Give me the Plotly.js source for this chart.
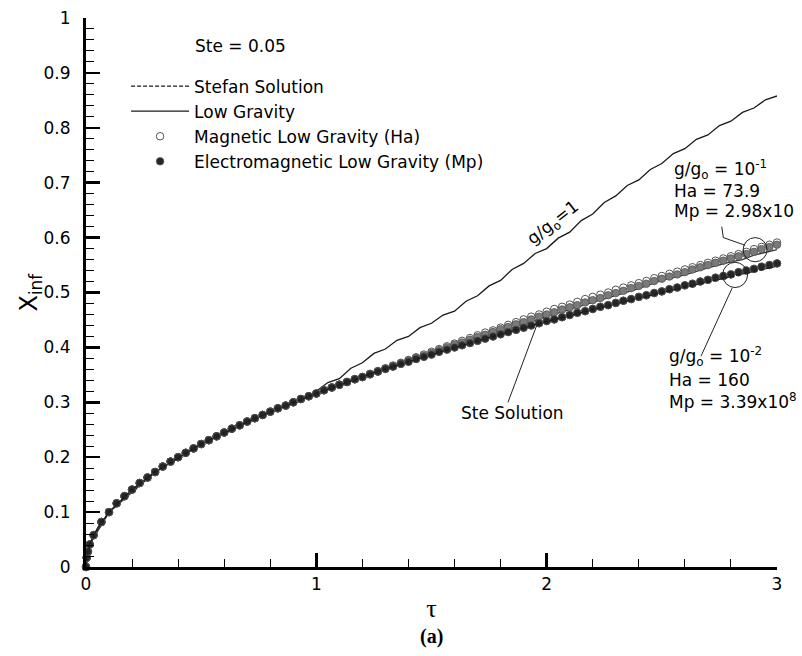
<!DOCTYPE html>
<html><head><meta charset="utf-8">
<script src="https://cdn.plot.ly/plotly-3.0.1.min.js"></script>
<style>html,body{margin:0;padding:0;background:#fff;}#chart{width:802px;height:656px;}</style>
</head><body><div id="chart"></div>
<script>
// ---- data ----
// Stefan (analytic) solution, dashed
const tauStefan = [0, 0.005, 0.02, 0.05, 0.1, 0.2, 0.3, 0.5, 0.75, 1, 1.25, 1.5, 1.75, 2, 2.25, 2.5, 2.75, 3];
const xStefan   = [0, 0.022, 0.045, 0.071, 0.1, 0.141, 0.173, 0.224, 0.274, 0.316, 0.354, 0.387, 0.418, 0.447, 0.474, 0.5, 0.524, 0.548];

// Low gravity, g/go = 1 (solid, wavy)
const tauLG1 = [0, 0.02, 0.1, 0.3, 0.5, 0.7, 0.9, 0.95, 1.0, 1.05, 1.1, 1.15, 1.2, 1.25, 1.3, 1.35, 1.4, 1.45, 1.5, 1.55, 1.6, 1.65, 1.7, 1.75, 1.8, 1.85, 1.9, 1.95, 2.0, 2.05, 2.1, 2.15, 2.2, 2.25, 2.3, 2.35, 2.4, 2.45, 2.5, 2.55, 2.6, 2.65, 2.7, 2.75, 2.8, 2.85, 2.9, 2.95, 3.0];
const xLG1   = [0, 0.045, 0.1, 0.173, 0.224, 0.265, 0.300, 0.308, 0.320, 0.336, 0.343, 0.362, 0.372, 0.389, 0.397, 0.413, 0.420, 0.436, 0.444, 0.459, 0.466, 0.484, 0.494, 0.512, 0.522, 0.542, 0.553, 0.571, 0.580, 0.599, 0.610, 0.631, 0.643, 0.664, 0.676, 0.695, 0.705, 0.724, 0.735, 0.753, 0.762, 0.779, 0.787, 0.804, 0.812, 0.828, 0.836, 0.851, 0.858];

// Low gravity, g/go = 1e-1 (solid)
const tauLG01 = [0, 0.02, 0.1, 0.3, 0.5, 0.8, 1.0, 1.2, 1.4, 1.6, 1.8, 2.0, 2.2, 2.4, 2.5, 2.6, 2.7, 2.8, 2.85, 2.9, 3.0];
const xLG01   = [0, 0.045, 0.1, 0.173, 0.224, 0.283, 0.316, 0.347, 0.376, 0.403, 0.430, 0.456, 0.482, 0.507, 0.522, 0.532, 0.545, 0.556, 0.560, 0.568, 0.578];

// Low gravity, g/go = 1e-2 (solid)
const tauLG001 = [0, 0.005, 0.02, 0.05, 0.1, 0.2, 0.3, 0.5, 0.75, 1, 1.25, 1.5, 1.75, 2, 2.25, 2.5, 2.75, 3];
const xLG001   = [0, 0.022, 0.045, 0.071, 0.1, 0.141, 0.173, 0.224, 0.274, 0.316, 0.354, 0.387, 0.418, 0.448, 0.476, 0.503, 0.528, 0.553];

// Symbol series: common early part (all four coincide)
const tauEarly = [0, 0.003, 0.008, 0.016, 0.033, 0.067, 0.1, 0.133, 0.167, 0.2, 0.233, 0.267, 0.3, 0.333, 0.367, 0.4, 0.433, 0.467, 0.5, 0.533, 0.567, 0.6, 0.633, 0.667, 0.7, 0.733, 0.767, 0.8, 0.833, 0.867, 0.9, 0.933, 0.967, 1.0, 1.033, 1.067, 1.1, 1.133, 1.167, 1.2];
const xEarly   = [0, 0.017, 0.028, 0.041, 0.058, 0.082, 0.100, 0.116, 0.129, 0.141, 0.153, 0.163, 0.173, 0.183, 0.192, 0.200, 0.208, 0.216, 0.224, 0.231, 0.238, 0.245, 0.252, 0.258, 0.265, 0.271, 0.277, 0.283, 0.289, 0.294, 0.300, 0.306, 0.311, 0.316, 0.322, 0.327, 0.332, 0.337, 0.342, 0.346];
// later part
const tauLate = [1.233, 1.267, 1.3, 1.333, 1.367, 1.4, 1.433, 1.467, 1.5, 1.533, 1.567, 1.6, 1.633, 1.667, 1.7, 1.733, 1.767, 1.8, 1.833, 1.867, 1.9, 1.933, 1.967, 2.0, 2.033, 2.067, 2.1, 2.133, 2.167, 2.2, 2.233, 2.267, 2.3, 2.333, 2.367, 2.4, 2.433, 2.467, 2.5, 2.533, 2.567, 2.6, 2.633, 2.667, 2.7, 2.733, 2.767, 2.8, 2.833, 2.867, 2.9, 2.933, 2.967, 3.0];
// g/go = 1e-2 (Ha = 160 and Mp = 3.39e8 coincide)
const xLate_g001 = [0.351, 0.356, 0.361, 0.365, 0.370, 0.374, 0.379, 0.383, 0.387, 0.392, 0.396, 0.400, 0.404, 0.408, 0.412, 0.416, 0.420, 0.424, 0.428, 0.432, 0.436, 0.440, 0.444, 0.448, 0.451, 0.455, 0.459, 0.463, 0.466, 0.470, 0.474, 0.477, 0.481, 0.485, 0.488, 0.492, 0.495, 0.499, 0.502, 0.506, 0.509, 0.513, 0.516, 0.520, 0.523, 0.527, 0.530, 0.533, 0.537, 0.540, 0.543, 0.547, 0.550, 0.553];
// g/go = 1e-1, Ha = 73.9 (open circles)
const xLate_Ha01 = [0.352, 0.357, 0.362, 0.367, 0.372, 0.377, 0.382, 0.387, 0.392, 0.397, 0.402, 0.407, 0.412, 0.417, 0.422, 0.427, 0.431, 0.436, 0.441, 0.446, 0.451, 0.456, 0.460, 0.465, 0.470, 0.474, 0.478, 0.483, 0.488, 0.492, 0.496, 0.500, 0.505, 0.509, 0.513, 0.517, 0.521, 0.526, 0.530, 0.534, 0.538, 0.542, 0.546, 0.550, 0.554, 0.558, 0.562, 0.566, 0.570, 0.574, 0.579, 0.583, 0.587, 0.591];
// g/go = 1e-1, Mp (filled grey)
const xLate_Mp01 = [0.351, 0.356, 0.361, 0.366, 0.371, 0.376, 0.381, 0.385, 0.390, 0.395, 0.400, 0.405, 0.409, 0.414, 0.419, 0.423, 0.428, 0.433, 0.437, 0.442, 0.446, 0.451, 0.456, 0.460, 0.464, 0.469, 0.473, 0.477, 0.482, 0.486, 0.490, 0.495, 0.499, 0.503, 0.508, 0.512, 0.516, 0.521, 0.525, 0.529, 0.533, 0.537, 0.542, 0.546, 0.550, 0.554, 0.558, 0.562, 0.566, 0.570, 0.574, 0.579, 0.583, 0.587];

const legendNames = ['Stefan Solution', 'Low Gravity', 'Magnetic Low Gravity (Ha)', 'Electromagnetic Low Gravity (Mp)'];
const xTickVals = [0, 1, 2, 3];
const yTickVals = [0, 0.1, 0.2, 0.3, 0.4, 0.5, 0.6, 0.7, 0.8, 0.9, 1];
const yTickText = ['0', '0.1', '0.2', '0.3', '0.4', '0.5', '0.6', '0.7', '0.8', '0.9', '1'];

// ---- build ----
const tauSym = tauEarly.concat(tauLate);
const FONT = 'DejaVu Sans, Arial, sans-serif';
const lineCol = '#1a1a1a';

const traces = [
  // Stefan curve is drawn on the overlay axis (same [0,1] range) so that axis - which carries the inside ticks - is rendered
  {x: tauStefan, y: xStefan, yaxis: 'y2', mode: 'lines', name: legendNames[0], line: {color: lineCol, width: 1.2, dash: '4px,2px'}, cliponaxis: false},
  {x: tauLG1, y: xLG1, mode: 'lines', name: legendNames[1], line: {color: lineCol, width: 1.3}, legendgroup: 'lg'},
  {x: tauLG01, y: xLG01, mode: 'lines', name: legendNames[1], showlegend: false, line: {color: '#333', width: 1.3}, legendgroup: 'lg'},
  {x: tauLG001, y: xLG001, mode: 'lines', name: legendNames[1], showlegend: false, line: {color: lineCol, width: 1.3}, legendgroup: 'lg'},
  {x: tauSym, y: xEarly.concat(xLate_g001), mode: 'markers', name: legendNames[2], legendgroup: 'ha',
   marker: {symbol: 'circle-open', size: 7.5, color: '#555', line: {width: 1}}, cliponaxis: false},
  {x: tauSym, y: xEarly.concat(xLate_Ha01), mode: 'markers', name: legendNames[2], showlegend: false, legendgroup: 'ha',
   marker: {symbol: 'circle-open', size: 7.5, color: '#555', line: {width: 1}}, cliponaxis: false},
  {x: tauSym, y: xEarly.concat(xLate_Mp01), mode: 'markers', name: legendNames[3], showlegend: false, legendgroup: 'mp',
   marker: {symbol: 'circle', size: 7.5, color: '#7a7a7a', line: {width: 0.8, color: '#555'}}, cliponaxis: false},
  {x: tauSym, y: xEarly.concat(xLate_g001), mode: 'markers', name: legendNames[3], legendgroup: 'mp',
   marker: {symbol: 'circle', size: 7.5, color: '#262626', line: {width: 0.8, color: '#555'}}, cliponaxis: false}
];

const txt = (x, y, text, extra) => Object.assign({x: x, y: y, xref: 'x', yref: 'y', text: text, showarrow: false,
  xanchor: 'left', yanchor: 'middle', font: {family: FONT, size: 17, color: '#000'}}, extra || {});

const annotations = [
  {x: 0.155, y: 0.949, xref: 'paper', yref: 'paper', text: 'Ste = 0.05', showarrow: false, xanchor: 'left', yanchor: 'middle', font: {family: FONT, size: 17, color: '#000'}},
  txt(2.03, 0.625, 'g/g<sub>o</sub>=1', {xanchor: 'center', textangle: -38}),
  txt(2.544, 0.724, 'g/g<sub>o</sub> = 10<sup>-1</sup>'),
  txt(2.544, 0.685, 'Ha = 73.9'),
  txt(2.544, 0.648, 'Mp = 2.98x10'),
  txt(2.522, 0.383, 'g/g<sub>o</sub> = 10<sup>-2</sup>'),
  txt(2.522, 0.341, 'Ha = 160'),
  txt(2.522, 0.303, 'Mp = 3.39x10<sup>8</sup>'),
  txt(1.619, 0.281, 'Ste Solution'),
  // y axis title
  {x: -0.081, y: 0.5, xref: 'paper', yref: 'paper', text: 'X<sub>inf</sub>', showarrow: false, xanchor: 'center', yanchor: 'middle',
   textangle: -90, font: {family: FONT, size: 24, color: '#000'}},
  {x: 0.5, y: -0.1275, xref: 'paper', yref: 'paper', text: '<b>(a)</b>', showarrow: false, xanchor: 'center', yanchor: 'middle',
   font: {family: 'Liberation Serif, Times New Roman, serif', size: 20, color: '#000'}}
];

const shapes = [
  {type: 'circle', xref: 'x', yref: 'y', x0: 2.853, x1: 2.957, y0: 0.556, y1: 0.600, line: {color: '#222', width: 1}},
  {type: 'circle', xref: 'x', yref: 'y', x0: 2.764, x1: 2.872, y0: 0.509, y1: 0.555, line: {color: '#222', width: 1}},
  {type: 'path', xref: 'x', yref: 'y', path: 'M 2.760 0.620 L 2.767 0.600 L 2.862 0.586', line: {color: '#222', width: 1}},
  {type: 'line', xref: 'x', yref: 'y', x0: 2.805, y0: 0.508, x1: 2.670, y1: 0.384, line: {color: '#222', width: 1}},
  {type: 'line', xref: 'x', yref: 'y', x0: 1.832, y0: 0.300, x1: 1.962, y1: 0.446, line: {color: '#222', width: 1}}
];

const layout = {
  width: 802, height: 656,
  margin: {l: 86, r: 25, t: 18, b: 89},
  paper_bgcolor: '#fff', plot_bgcolor: '#fff',
  showlegend: true,
  legend: {x: 0.058, y: 0.908, xanchor: 'left', yanchor: 'top', bgcolor: 'rgba(0,0,0,0)',
           font: {family: FONT, size: 17, color: '#000'}, itemwidth: 58, tracegroupgap: 0, traceorder: 'normal'},
  xaxis: {range: [0, 3], tickvals: xTickVals, ticktext: xTickVals.map(String),
    showgrid: false, zeroline: false, showline: true, linecolor: '#000', linewidth: 3,
    ticks: 'inside', ticklen: 14, tickwidth: 2.5, tickcolor: '#000',
    tickfont: {family: FONT, size: 17, color: '#000'},
    minor: {ticks: 'inside', ticklen: 8, tickwidth: 1, tickcolor: '#000', dtick: 0.2, tick0: 0},
    title: {text: 'τ', font: {family: 'Liberation Serif, Times New Roman, serif', size: 26, color: '#000'}, standoff: 6}},
  // labelled y axis: invisible outside ticks give the labels their gap from the axis line
  yaxis: {range: [0, 1], tickvals: yTickVals, ticktext: yTickText,
    showgrid: false, zeroline: false, showline: true, linecolor: '#000', linewidth: 3,
    ticks: 'outside', ticklen: 9, tickwidth: 1, tickcolor: 'rgba(0,0,0,0)',
    tickfont: {family: FONT, size: 17, color: '#000'}},
  // overlay y axis carrying the inside major/minor ticks
  yaxis2: {range: [0, 1], overlaying: 'y', anchor: 'x', side: 'left', tickvals: yTickVals,
    showticklabels: false, showgrid: false, zeroline: false, showline: false,
    ticks: 'inside', ticklen: 14, tickwidth: 2.5, tickcolor: '#000',
    minor: {ticks: 'inside', ticklen: 8, tickwidth: 1, tickcolor: '#000', dtick: 0.02, tick0: 0}},
  annotations: annotations,
  shapes: shapes
};

Plotly.newPlot('chart', traces, layout, {staticPlot: true});
</script></body></html>
